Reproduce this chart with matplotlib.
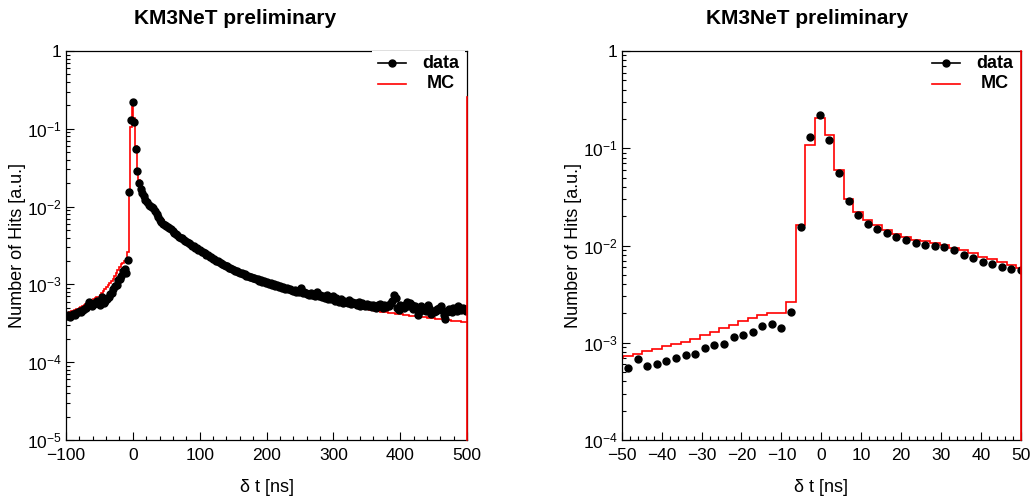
import numpy as np
import matplotlib
matplotlib.use("Agg")
import matplotlib.pyplot as plt
from matplotlib import font_manager as fm
from matplotlib.lines import Line2D
from matplotlib.patches import Rectangle
from matplotlib.ticker import MultipleLocator, FixedLocator, FixedFormatter, LogLocator, NullFormatter

# histogram: 250 bins of 2.4 ns from -100 to 500 ns
bin_lo = -100.0
bin_w = 2.4
n_bins = 250

# values in units of 1e-3 (a.u.), ten bins per row
mc_rise = [0.42, 0.43, 0.44, 0.45, 0.46, 0.47, 0.48, 0.49, 0.50, 0.515,
           0.53, 0.545, 0.56, 0.575, 0.59, 0.605, 0.62, 0.64, 0.66, 0.68,
           0.698, 0.737, 0.766, 0.816, 0.86, 0.92, 0.98, 1.03, 1.10, 1.19,
           1.29, 1.41, 1.54, 1.67, 1.81, 1.91, 2.0, 2.0, 2.61, 16.4]
mc_peak = [107, 206, 137, 59.6, 30.2, 22.0, 18.5, 16.2, 14.4, 13.2,
           12.3, 11.5, 11.1, 10.6, 10.1, 9.5, 8.9, 8.3, 7.6, 7.2,
           6.7, 6.3, 5.9, 5.65, 5.4, 5.15, 4.93, 4.75, 4.57, 4.38]
mc_tail = [4.2, 4.06, 3.93, 3.8, 3.67, 3.54, 3.43, 3.32, 3.22, 3.12,
           3.04, 2.95, 2.87, 2.79, 2.71, 2.63, 2.55, 2.47, 2.40, 2.33,
           2.26, 2.19, 2.13, 2.08, 2.02, 1.97, 1.92, 1.87, 1.82, 1.77,
           1.73, 1.69, 1.65, 1.61, 1.57, 1.54, 1.51, 1.48, 1.45, 1.42,
           1.39, 1.36, 1.33, 1.31, 1.28, 1.26, 1.23, 1.21, 1.19, 1.17,
           1.15, 1.13, 1.11, 1.09, 1.07, 1.05, 1.035, 1.02, 1.0, 0.985,
           0.97, 0.955, 0.94, 0.928, 0.914, 0.90, 0.885, 0.87, 0.858, 0.846,
           0.834, 0.822, 0.81, 0.80, 0.79, 0.778, 0.768, 0.758, 0.75, 0.74,
           0.731, 0.722, 0.713, 0.705, 0.697, 0.689, 0.68, 0.672, 0.664, 0.655,
           0.647, 0.639, 0.63, 0.622, 0.615, 0.608, 0.60, 0.594, 0.587, 0.58,
           0.573, 0.566, 0.56, 0.554, 0.548, 0.542, 0.536, 0.53, 0.525, 0.519,
           0.514, 0.509, 0.504, 0.499, 0.494, 0.489, 0.485, 0.48, 0.476, 0.472,
           0.469, 0.465, 0.461, 0.458, 0.455, 0.451, 0.448, 0.445, 0.442, 0.439,
           0.436, 0.433, 0.43, 0.427, 0.424, 0.421, 0.419, 0.416, 0.414, 0.411,
           0.408, 0.406, 0.403, 0.401, 0.398, 0.396, 0.393, 0.391, 0.389, 0.387,
           0.385, 0.383, 0.381, 0.378, 0.376, 0.374, 0.372, 0.37, 0.368, 0.365,
           0.363, 0.361, 0.359, 0.357, 0.355, 0.353, 0.351, 0.349, 0.347, 0.345,
           0.343, 0.341, 0.339, 0.338, 0.336, 0.334, 0.333, 0.331, 0.329, 0.327]

data_rise = [0.39, 0.40, 0.385, 0.41, 0.42, 0.405, 0.43, 0.44, 0.455, 0.445,
             0.47, 0.49, 0.50, 0.55, 0.59, 0.56, 0.53, 0.56, 0.60, 0.62,
             0.58, 0.55, 0.68, 0.57, 0.605, 0.655, 0.69, 0.755, 0.77, 0.885,
             0.94, 0.98, 1.15, 1.19, 1.29, 1.48, 1.56, 1.42, 2.06, 15.5]
data_peak = [130, 218, 121, 55, 28.6, 20.4, 16.8, 14.8, 13.5, 12.3,
             11.3, 10.6, 10.2, 10.0, 9.7, 8.9, 8.0, 7.4, 6.8, 6.4,
             6.0, 5.8, 5.6, 5.5, 5.25, 5.1, 4.85, 4.62, 4.5, 4.3]
data_tail = [4.1, 4.0, 3.9, 3.72, 3.62, 3.5, 3.36, 3.28, 3.15, 3.08,
             2.98, 2.9, 2.8, 2.74, 2.64, 2.6, 2.5, 2.42, 2.37, 2.28,
             2.22, 2.15, 2.1, 2.02, 1.99, 1.92, 1.9, 1.83, 1.8, 1.74,
             1.72, 1.64, 1.63, 1.58, 1.55, 1.5, 1.5, 1.45, 1.42, 1.4,
             1.36, 1.35, 1.3, 1.3, 1.25, 1.25, 1.2, 1.21, 1.16, 1.17,
             1.12, 1.13, 1.08, 1.1, 1.05, 1.06, 1.02, 1.05, 0.99, 1.0,
             0.96, 0.97, 0.93, 0.95, 0.9, 0.92, 0.87, 0.9, 0.86, 0.88,
             0.84, 0.82, 0.85, 0.8, 0.83, 0.79, 0.9, 0.78, 0.8, 0.77,
             0.76, 0.73, 0.77, 0.72, 0.74, 0.71, 0.81, 0.7, 0.72, 0.69,
             0.7, 0.66, 0.72, 0.65, 0.68, 0.64, 0.7, 0.62, 0.66, 0.63,
             0.6, 0.64, 0.58, 0.62, 0.6, 0.57, 0.63, 0.56, 0.59, 0.57,
             0.58, 0.54, 0.6, 0.53, 0.57, 0.55, 0.52, 0.56, 0.53, 0.55,
             0.51, 0.54, 0.52, 0.5, 0.55, 0.56, 0.52, 0.5, 0.54, 0.51,
             0.55, 0.52, 0.57, 0.62, 0.74, 0.66, 0.5, 0.47, 0.55, 0.53,
             0.5, 0.55, 0.6, 0.52, 0.57, 0.54, 0.49, 0.53, 0.48, 0.4,
             0.46, 0.52, 0.5, 0.47, 0.45, 0.54, 0.5, 0.42, 0.46, 0.44,
             0.45, 0.48, 0.5, 0.53, 0.47, 0.4, 0.36, 0.44, 0.49, 0.47,
             0.44, 0.5, 0.48, 0.45, 0.52, 0.5, 0.47, 0.5, 0.48, 0.46]

mc = np.array(mc_rise + mc_peak + mc_tail) * 1e-3
data = np.array(data_rise + data_peak + data_tail) * 1e-3
edges = bin_lo + bin_w * np.arange(n_bins + 1)
centers = edges[:-1] + bin_w / 2

names = {f.name for f in fm.fontManager.ttflist}
narrow = 'Liberation Sans Narrow' if 'Liberation Sans Narrow' in names else 'Liberation Sans'
plt.rcParams['font.family'] = ['Liberation Sans', 'DejaVu Sans']
plt.rcParams['mathtext.fontset'] = 'custom'
plt.rcParams['mathtext.rm'] = narrow
plt.rcParams['mathtext.it'] = narrow
plt.rcParams['mathtext.bf'] = narrow

W, H = 1032, 501
fig = plt.figure(figsize=(W / 100, H / 100), dpi=100)


def fx(px):
    return px / W


def fy(py):
    return 1 - py / H


def panel(x0, x1, xlim, xmaj, xmin, ylo, title_x, red_top):
    ax = fig.add_axes([fx(x0), fy(440), fx(x1 - x0), (440 - 51) / H])
    ax.set_yscale('log')
    ax.stairs(mc, edges, baseline=None, color='red', lw=1.2, zorder=2)
    keep = (centers > xlim[0]) & (centers < xlim[1])
    ax.plot(centers[keep], data[keep], 'o', color='black', ms=5, zorder=3)
    ax.axvline(xlim[1], ymax=red_top, color='red', lw=1.2, clip_on=False, zorder=4)
    ax.set_xlim(*xlim)
    ax.set_ylim(ylo, 1)

    ax.xaxis.set_major_locator(MultipleLocator(xmaj))
    ax.xaxis.set_minor_locator(MultipleLocator(xmin))
    decs = [10.0 ** e for e in range(int(round(np.log10(ylo))), 1)]
    labs = [r'$10^{%d}$' % int(round(np.log10(d))) for d in decs[:-1]] + ['1']
    ax.yaxis.set_major_locator(FixedLocator(decs))
    ax.yaxis.set_major_formatter(FixedFormatter(labs))
    ax.yaxis.set_minor_locator(LogLocator(base=10, subs=np.arange(2, 10)))
    ax.yaxis.set_minor_formatter(NullFormatter())
    ax.tick_params(which='both', direction='in', top=False, right=False, width=0.8)
    ax.tick_params(which='major', length=6)
    ax.tick_params(which='minor', length=3)
    ax.tick_params(axis='x', pad=6)
    ax.tick_params(axis='y', pad=3)
    for lab in ax.get_xticklabels() + ax.get_yticklabels():
        lab.set_family([narrow, 'DejaVu Sans'])
        lab.set_fontsize(12.5)
    for s in ax.spines.values():
        s.set_linewidth(0.9)

    fig.text(fx(title_x), fy(18), 'KM3NeT preliminary', ha='center', va='center',
             fontsize=15, fontweight='bold')
    fig.text(fx((x0 + x1) / 2), fy(487), 'δ t [ns]', ha='center', va='center',
             fontsize=13, family=[narrow, 'DejaVu Sans'])
    fig.text(fx(x0 - 48), fy(245), 'Number of Hits [a.u.]', ha='center', va='center',
             rotation=90, fontsize=13)

    # legend entries, placed relative to the right edge of the frame
    fig.add_artist(Line2D([fx(x1 - 89), fx(x1 - 75), fx(x1 - 61)],
                          [fy(63), fy(63), fy(63)], color='black', lw=1.2,
                          marker='o', ms=5, markevery=[1], zorder=6))
    fig.add_artist(Line2D([fx(x1 - 89), fx(x1 - 61)], [fy(83.5), fy(83.5)], color='red',
                          lw=1.2, zorder=6))
    fig.text(fx(x1 - 26.5), fy(63), 'data', ha='center', va='center', fontsize=13,
             fontweight='bold', zorder=6)
    fig.text(fx(x1 - 26.5), fy(83.5), 'MC', ha='center', va='center', fontsize=13,
             fontweight='bold', zorder=6)
    return ax


axL = panel(66, 467, (-100, 500), 100, 20, 1e-5, 235, (440 - 97) / 389)
axR = panel(621.7, 1021, (-50, 50), 10, 2, 1e-4, 807, 1.0)

# the legend box of the left pad hides part of the top frame
fig.add_artist(Rectangle((fx(372), fy(97)), fx(93), 46 / H, transform=fig.transFigure,
                         facecolor='white', edgecolor='none', zorder=5))

fig.savefig('out.png', dpi=100)
